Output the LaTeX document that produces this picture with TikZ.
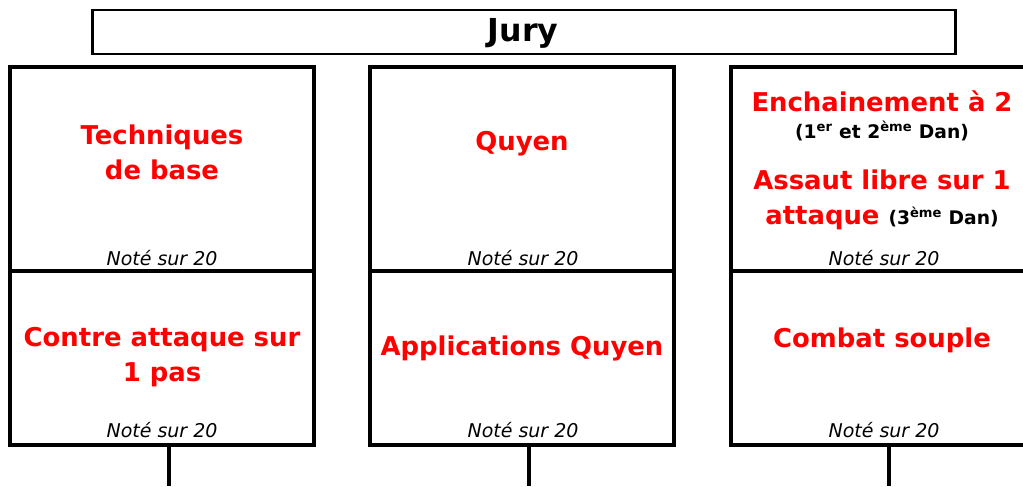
\documentclass[tikz,border=0pt]{standalone}
\usepackage{fontspec}
\setmainfont{DejaVu Sans}
\tikzset{
        cell/.style={draw, line width=2.8pt, minimum width=7.6cm, outer sep=0pt, inner sep=0pt},
        topcell/.style={cell, minimum height=5.1cm},
        lowcell/.style={cell, minimum height=4.35cm},
        title/.style={text=red, align=center, font=\bfseries\fontsize{18.4}{25}\selectfont},
        note/.style={font=\itshape\fontsize{13.5}{16}\selectfont},
        link/.style={line width=2.8pt}
}
\newcommand{\dan}[1]{{\color{black}\fontsize{13.3}{15}\selectfont #1}}
\begin{document}
\begin{tikzpicture}[x=0.025cm,y=-0.025cm] %Epreuves et jury
        \useasboundingbox (0,0) rectangle (1023,486);

        \node[draw, line width=2pt, minimum width=21.55cm, minimum height=1.1cm] (jury) at (524,32) {};
        \node[anchor=base, font=\bfseries\fontsize{22.5}{26}\selectfont] (juryname) at (523,42) {Jury};

        \node[topcell] (t1) at (162,169) {};
        \node[topcell] (t2) at (522,169) {};
        \node[topcell] (t3) at (883,169) {};
        \node[lowcell] (b1) at (162,358) {};
        \node[lowcell] (b2) at (522,358) {};
        \node[lowcell] (b3) at (883,358) {};

        \node[title] (tech) at (162,152) {Techniques\\de base};
        \node[title] (quyen) at (522,144) {Quyen};
        \node[title] (ench) at (882,116) {Enchainement à 2\\[-5.5pt]\dan{(1\textsuperscript{er} et 2\textsuperscript{ème} Dan)}};
        \node[title] (assaut) at (882,200) {Assaut libre sur 1\\attaque \dan{(3\textsuperscript{ème} Dan)}};
        \node[title] (contre) at (162,357) {Contre attaque sur\\1 pas};
        \node[title] (appli) at (522,348) {Applications Quyen};
        \node[title] (combat) at (882,340) {Combat souple};

        \node[note] (n1) at (162,258) {Noté sur 20};
        \node[note] (n2) at (523,258) {Noté sur 20};
        \node[note] (n3) at (884,258) {Noté sur 20};
        \node[note] (n4) at (162,430) {Noté sur 20};
        \node[note] (n5) at (523,430) {Noté sur 20};
        \node[note] (n6) at (884,430) {Noté sur 20};

        \coordinate (e1) at (169,486);
        \coordinate (e2) at (529,486);
        \coordinate (e3) at (889,486);
        \draw[link] (b1.south -| e1) -- (e1);
        \draw[link] (b2.south -| e2) -- (e2);
        \draw[link] (b3.south -| e3) -- (e3);
    \end{tikzpicture}
\end{document}
